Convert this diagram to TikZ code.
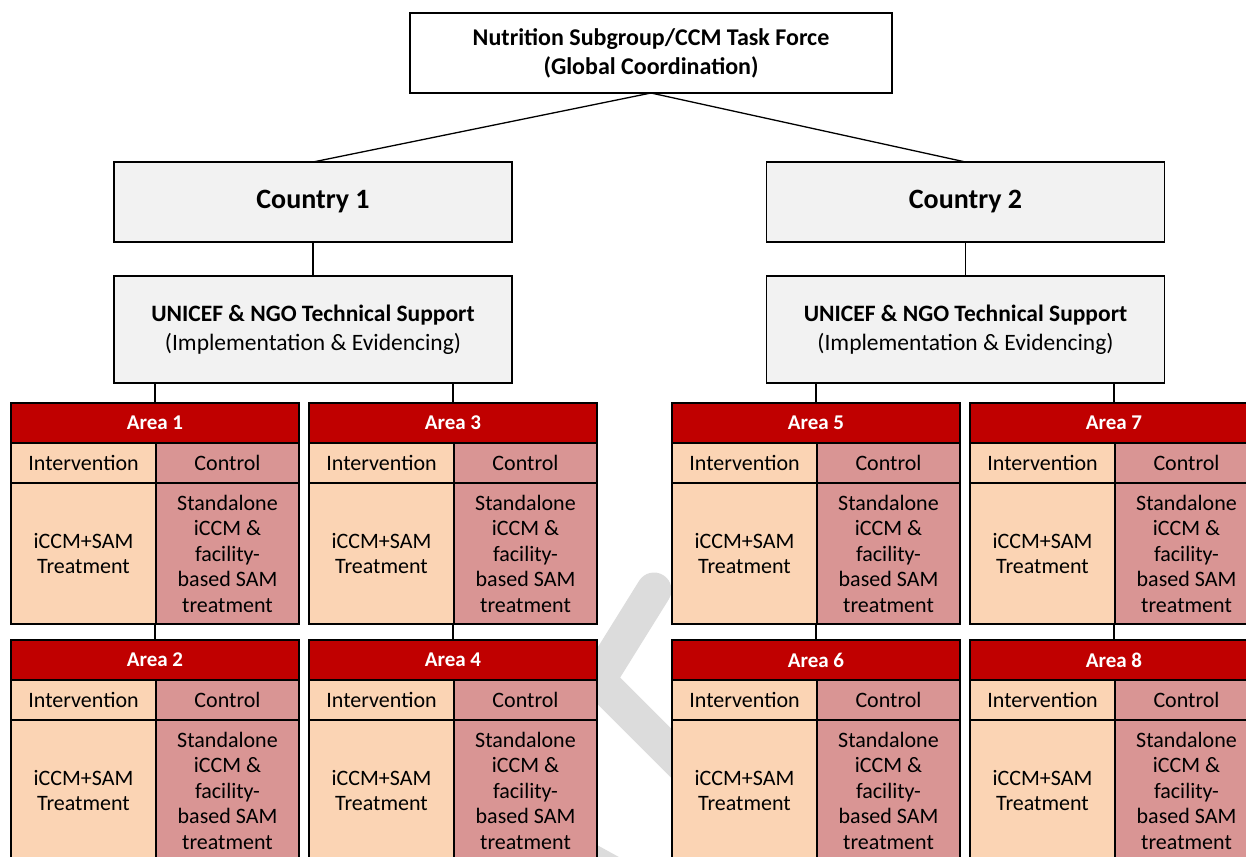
\documentclass[tikz,border=0pt]{standalone}
\usepackage{fontspec}
\setmainfont{Carlito}
\usetikzlibrary{positioning}

\definecolor{areared}{HTML}{C00000}
\definecolor{intpeach}{HTML}{FBD4B4}
\definecolor{conpink}{HTML}{D99594}
\definecolor{boxgray}{HTML}{F2F2F2}
\definecolor{markgray}{HTML}{DCDCDC}

\tikzset{
	box/.style={draw=black, line width=1.3pt, inner sep=0pt, outer sep=0pt, align=center},
	topbox/.style={box, fill=white, minimum width=482pt, minimum height=80pt, font=\bfseries\fontsize{24}{29}\selectfont},
	ctybox/.style={box, fill=boxgray, minimum width=398pt, minimum height=80pt, font=\bfseries\fontsize{28}{33}\selectfont},
	supbox/.style={box, fill=boxgray, minimum width=398pt, minimum height=107pt, font=\fontsize{23.5}{29}\selectfont},
	areahead/.style={box, fill=areared, text=white, minimum width=288pt, minimum height=40pt, font=\bfseries\fontsize{21}{25}\selectfont},
	intcell/.style={box, fill=intpeach, minimum width=145pt, minimum height=40pt, font=\fontsize{22}{25.5}\selectfont},
	concell/.style={box, fill=conpink, minimum width=143pt, minimum height=40pt, font=\fontsize{22}{25.5}\selectfont},
	link/.style={draw=black, line width=1.3pt}
}

\begin{document}
\begin{tikzpicture}[x=1pt, y=-1pt]
\useasboundingbox (0,0) rectangle (1246,856);
\clip (0,0) rectangle (1246,856);

% watermark behind the boxes
\draw[markgray, line width=35pt, line cap=round, line join=miter] (654,590) -- (598,680) -- (730,812);
\draw[markgray, line width=35pt] (540,833.6) -- (720,932.6);

\node[topbox] (top) at (651,53) {Nutrition Subgroup/CCM Task Force\\(Global Coordination)};

\node[ctybox] (cty1) at (313,202) {Country 1};
\node[ctybox] (cty2) at (965.5,202) {Country 2};

\node[supbox, below=34pt of cty1] (sup1) {\textbf{UNICEF \& NGO Technical Support}\\(Implementation \& Evidencing)};
\node[supbox, below=34pt of cty2] (sup2) {\textbf{UNICEF \& NGO Technical Support}\\(Implementation \& Evidencing)};

\draw[link] (top.south) -- (cty1.north);
\draw[link] (top.south) -- (cty2.north);
\draw[link] (cty1) -- (sup1);
\draw[link] (cty2) -- (sup2);

\foreach \n/\x/\y in {1/11/403, 2/11/640, 3/309/403, 4/309/640, 5/672/403, 6/672/640, 7/970/403, 8/970/640} {
	\node[areahead, anchor=north west] (a\n) at (\x,\y) {Area \n};
	\node[intcell, anchor=north west] (i\n) at (a\n.south west) {Intervention};
	\node[concell, anchor=north east] (c\n) at (a\n.south east) {Control};
	\node[intcell, minimum height=141pt, anchor=north] (ib\n) at (i\n.south) {iCCM+SAM\\Treatment};
	\node[concell, minimum height=141pt, anchor=north] (cb\n) at (c\n.south) {Standalone\\iCCM \&\\facility-\\based SAM\\treatment};
}

\draw[link] (sup1.south -| a1.north) -- (a1.north);
\draw[link] (sup1.south -| a3.north) -- (a3.north);
\draw[link] (sup2.south -| a5.north) -- (a5.north);
\draw[link] (sup2.south -| a7.north) -- (a7.north);

\foreach \u/\l in {1/2, 3/4, 5/6, 7/8} {
	\draw[link] (ib\u.south -| a\l.north) -- (a\l.north);
}

\end{tikzpicture}
\end{document}
